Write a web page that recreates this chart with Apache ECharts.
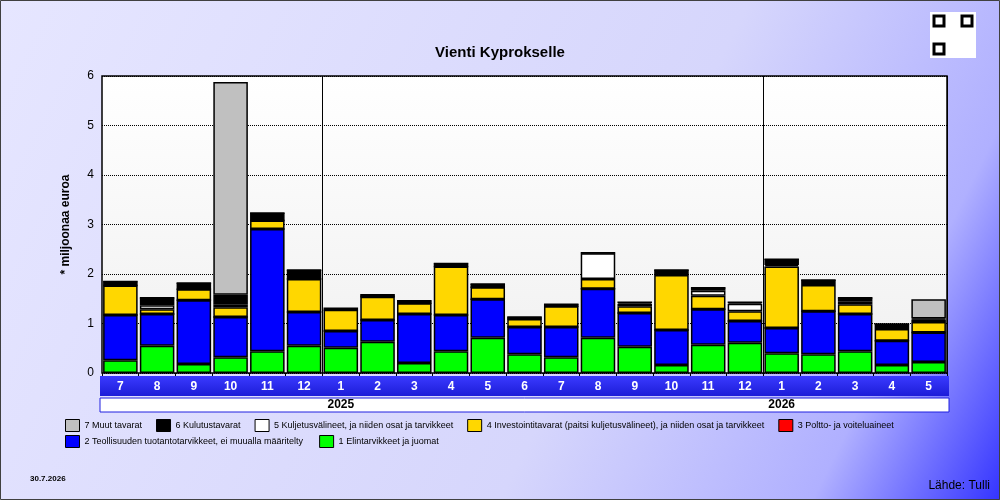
<!DOCTYPE html><html><head><meta charset="utf-8">
<script src="https://cdn.jsdelivr.net/npm/echarts@6/dist/echarts.min.js"></script>
<style>html,body{margin:0;padding:0}#c{width:1000px;height:500px}</style></head><body><div id="c"></div>
<script>
const months=['7','8','9','10','11','12','1','2','3','4','5','6','7','8','9','10','11','12','1','2','3','4','5'];
const yearLabels=['','','','','','','2025','','','','','','','','','','','','2026','','','',''];
const yTicks=[0,1,2,3,4,5,6];
const s1=[.26,.55,.18,.32,.44,.55,.51,.63,.20,.44,.71,.38,.32,.71,.53,.16,.57,.61,.40,.38,.44,.16,.22];
const s2=[.91,.64,1.29,.81,2.47,.68,.34,.44,.99,.73,.78,.55,.61,.99,.68,.71,.72,.44,.51,.87,.75,.49,.60];
const s3=[0,0,0,0,0,0,0,0,0,0,0,0,0,0,0,0,0,0,0,0,0,0,0];
const s4=[.60,.10,.22,.20,.17,.67,.43,.47,.22,.98,.24,.16,.42,.20,.14,1.11,.27,.20,1.24,.53,.20,.24,.21];
const s5=[0,.08,0,.06,0,0,0,0,0,0,0,0,0,.52,.05,.06,.10,.15,.03,.06,.06,.06,.05];
const s6=[.08,.15,.13,.19,.15,.18,.03,.04,.05,.06,.07,.04,.04,.01,.03,.04,.06,.03,.12,.04,.07,.04,.02];
const s7=[0,0,0,4.30,0,0,0,0,0,0,0,0,0,0,0,0,0,0,0,0,0,0,.39];
const names=['1 Elintarvikkeet ja juomat','2 Teollisuuden tuotantotarvikkeet, ei muualla määritelty','3 Poltto- ja voiteluaineet','4 Investointitavarat (paitsi kuljetusvälineet), ja niiden osat ja tarvikkeet','5 Kuljetusvälineet, ja niiden osat ja tarvikkeet','6 Kulutustavarat','7 Muut tavarat'];
const colors=['#00ff00','#0000ff','#ff0000','#ffd700','#ffffff','#000000','#c0c0c0'];
const data=[s1,s2,s3,s4,s5,s6,s7];
const chart=echarts.init(document.getElementById('c'));
const series=data.map((d,i)=>({name:names[i],type:'bar',stack:'a',data:d,barCategoryGap:'6%',
 itemStyle:{color:colors[i],borderColor:'#000',borderWidth:1.5},emphasis:{disabled:true}}));
chart.setOption({
 animation:false,
 backgroundColor:{type:'linear',x:0,y:0,x2:1,y2:1,colorStops:[{offset:0,color:'#e6e6ff'},{offset:0.6,color:'#d6d6fc'},{offset:0.85,color:'#b0b0ff'},{offset:1,color:'#3434ff'}]},
 title:{text:'Vienti Kyprokselle',left:'center',top:40,textStyle:{fontSize:15,fontWeight:'bold',color:'#000',fontFamily:'Liberation Sans'}},
 grid:{left:102,right:53,top:76,bottom:127,show:true,borderColor:'#000',borderWidth:1.5,
  backgroundColor:{type:'linear',x:0,y:0,x2:0,y2:1,colorStops:[{offset:0,color:'#ffffff'},{offset:1,color:'#f0f0f0'}]}},
 xAxis:[{type:'category',data:months,axisLine:{show:false},axisTick:{show:true,length:3,lineStyle:{color:'#000'}},
  splitLine:{show:true,interval:(i)=>i===6||i===18,lineStyle:{color:'#000',width:1,type:'solid'}},
  axisLabel:{color:'#fff',fontWeight:'bold',fontSize:12,fontFamily:'Liberation Sans',margin:8}},
  {type:'category',data:yearLabels,position:'bottom',offset:25,gridIndex:0,axisLine:{show:false},axisTick:{show:false},
  axisLabel:{color:'#000',fontWeight:'bold',fontSize:12,fontFamily:'Liberation Sans',interval:0,align:'center',margin:1}}],
 yAxis:{type:'value',min:0,max:6,interval:1,name:'* miljoonaa euroa',nameLocation:'middle',nameGap:30,nameRotate:90,
  nameTextStyle:{fontWeight:'bold',fontSize:12,color:'#000',fontFamily:'Liberation Sans'},
  axisLine:{show:false},axisTick:{show:false},axisLabel:{color:'#000',fontSize:12,fontFamily:'Liberation Sans',margin:8},
  splitLine:{lineStyle:{color:'#000',type:'dotted',width:1}}},
 legend:[{left:60,top:414,itemWidth:14,itemHeight:12,itemGap:14,icon:'rect',selectedMode:false,
   data:[names[6],names[5],names[4],names[3],names[2]],textStyle:{fontSize:9,color:'#000',fontFamily:'Liberation Sans'},
   itemStyle:{borderColor:'#000',borderWidth:1}},
  {left:60,top:430,itemWidth:14,itemHeight:12,itemGap:16,icon:'rect',selectedMode:false,
   data:[names[1],names[0]],textStyle:{fontSize:9,color:'#000',fontFamily:'Liberation Sans'},itemStyle:{borderColor:'#000',borderWidth:1}}],
 graphic:[
  {type:'rect',z:-1,shape:{x:100,y:376,width:849,height:20},style:{fill:{type:'linear',x:0,y:0,x2:0,y2:1,colorStops:[{offset:0,color:'#3a3aff'},{offset:1,color:'#1c1cd8'}]}}},
  {type:'rect',z:-1,shape:{x:100,y:398,width:849,height:14},style:{fill:'#fff',stroke:'#2020e0',lineWidth:1}},
  {type:'rect',z:-2,shape:{x:0.5,y:0.5,width:999,height:499},style:{fill:'none',stroke:'#404040',lineWidth:1}},
  {type:'text',left:30,top:475,style:{text:'30.7.2026',fontSize:8,fontWeight:'bold',fill:'#000',fontFamily:'Liberation Sans'}},
  {type:'text',right:10,top:480,style:{text:'Lähde: Tulli',fontSize:12,fill:'#000',fontFamily:'Liberation Sans'}},
  {type:'rect',shape:{x:930,y:12,width:46,height:46},style:{fill:'#fff'}},
  {type:'rect',shape:{x:934,y:16,width:10,height:10},style:{fill:'none',stroke:'#000',lineWidth:3}},
  {type:'rect',shape:{x:962,y:16,width:10,height:10},style:{fill:'none',stroke:'#000',lineWidth:3}},
  {type:'rect',shape:{x:934,y:44,width:10,height:10},style:{fill:'none',stroke:'#000',lineWidth:3}}
 ],
 series:series
});
</script></body></html>
